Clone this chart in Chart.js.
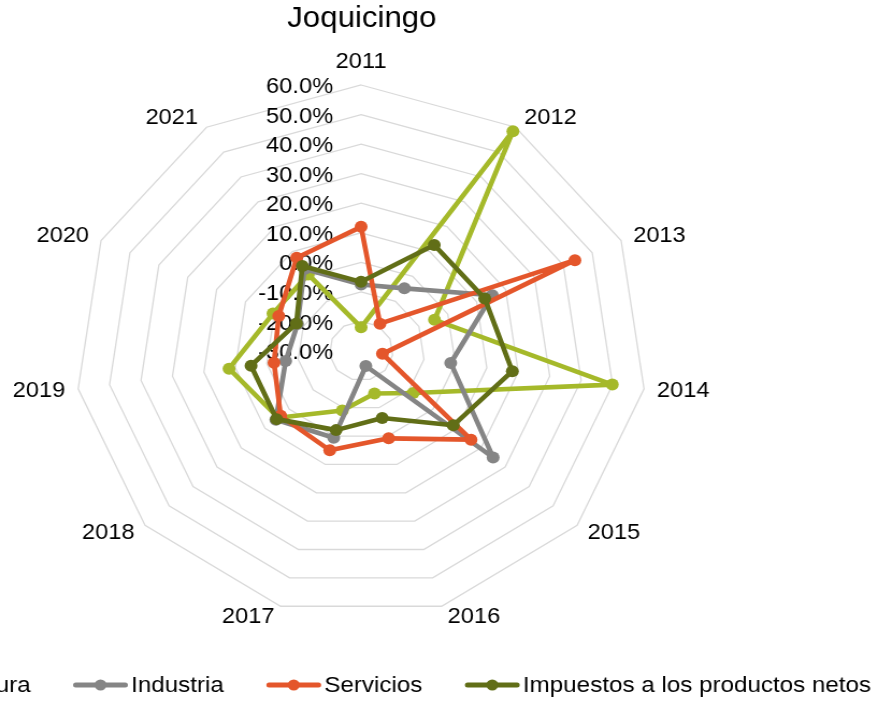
<!DOCTYPE html>
<html><head><meta charset="utf-8">
<script src="https://cdn.jsdelivr.net/npm/chart.js@4"></script>
<style>
html,body{margin:0;padding:0;background:#fff;overflow:hidden;}
#wrap{width:817px;height:701px;transform-origin:0 0;transform:scaleX(1.07466);}
canvas{display:block;}
</style></head><body>
<div id="wrap"><canvas id="c" width="817" height="701"></canvas></div>
<script>
const categories = ['2011','2012','2013','2014','2015','2016','2017','2018','2019','2020','2021'];
const seriesNames = ['Agricultura','Industria','Servicios','Impuestos a los productos netos'];
const agricultura = [-22, 58.4, -4.6, 49.9, -8.3, -15, -9, 4.5, 12, 0.5, 0.8];
const industria   = [-7.5, -4.8, 15.4, -1.5, 25, -24.7, 0.6, 5.5, -6, -8, 3];
const servicios   = [12, -19, 44, -23.2, 15.8, 0.8, 5, 3.5, -2.3, -1.5, 7.5];
const impuestos   = [-6.6, 12.6, 12.8, 18.1, 8.4, -6.4, -2.1, 5.2, 5, -7.6, 4.2];
const tickValues  = [60, 50, 40, 30, 20, 10, 0, -10, -20, -30];
const tickLabels  = ['60.0%','50.0%','40.0%','30.0%','20.0%','10.0%','0.0%','-10.0%','-20.0%','-30.0%'];
const colors = ['#A5B92A', '#858585', '#E4562B', '#616E17'];

const FONT = '"Liberation Sans", Arial, sans-serif';

const overlay = {
  id: 'overlay',
  beforeDatasetsDraw(chart) {
    const s = chart.scales.r, ctx = chart.ctx;
    ctx.save();
    ctx.font = '22px ' + FONT;
    ctx.fillStyle = '#000';
    ctx.textBaseline = 'middle';
    ctx.textAlign = 'right';
    tickValues.forEach((v, i) => {
      const r = s.getDistanceFromCenterForValue(v);
      ctx.fillText(tickLabels[i], s.xCenter - 26, s.yCenter - r + 2);
    });
    const R = s.drawingArea;
    categories.forEach((lab, i) => {
      const p = s.getPointPosition(i, R);
      const a = s.getIndexAngle(i);
      const sn = Math.sin(a), cs = Math.cos(a);
      let x, y;
      if (Math.abs(sn) < 0.01) {
        ctx.textAlign = 'center'; x = p.x; y = p.y - cs * 23;
      } else {
        ctx.textAlign = sn > 0 ? 'left' : 'right';
        x = p.x + sn * 9 + Math.sign(sn) * 3;
        y = p.y - cs * 11.5;
      }
      ctx.fillText(lab, x, y);
    });
    ctx.restore();
  },
  afterDraw(chart) {
    const s = chart.scales.r, ctx = chart.ctx;
    ctx.save();
    ctx.font = '22.5px ' + FONT;
    const markW = 50, textGap = 3.5, itemGap = 40;
    const widths = seriesNames.map(n => ctx.measureText(n).width);
    let total = itemGap * (seriesNames.length - 1);
    widths.forEach(w => total += markW + textGap + w);
    let x = s.xCenter + 3 - total / 2;
    const y = 685;
    seriesNames.forEach((n, i) => {
      ctx.strokeStyle = colors[i];
      ctx.lineWidth = 5;
      ctx.lineCap = 'round';
      ctx.beginPath(); ctx.moveTo(x + 2, y); ctx.lineTo(x + markW - 2, y); ctx.stroke();
      ctx.fillStyle = colors[i];
      ctx.beginPath(); ctx.arc(x + markW / 2, y, 5.5, 0, Math.PI * 2); ctx.fill();
      ctx.fillStyle = '#000';
      ctx.textAlign = 'left'; ctx.textBaseline = 'middle';
      ctx.fillText(n, x + markW + textGap, y + 1);
      x += markW + textGap + widths[i] + itemGap;
    });
    ctx.restore();
  }
};

const seriesData = [agricultura, industria, servicios, impuestos];
const datasets = seriesData.map((d, i) => ({
  label: seriesNames[i],
  data: d,
  borderColor: colors[i],
  backgroundColor: colors[i],
  pointBackgroundColor: colors[i],
  pointBorderColor: colors[i],
  pointBorderWidth: 0,
  pointRadius: 6,
  borderWidth: 4.6,
  borderJoinStyle: 'round',
  borderCapStyle: 'round',
  fill: false,
  tension: 0,
  order: 3 - i
}));

new Chart(document.getElementById('c'), {
  type: 'radar',
  data: { labels: categories, datasets },
  options: {
    responsive: false,
    animation: false,
    devicePixelRatio: 1,
    layout: { padding: { left: 70.7, right: 214.3, top: 0, bottom: 84 } },
    plugins: {
      legend: { display: false },
      tooltip: { enabled: false },
      title: {
        display: true, text: 'Joquicingo', color: '#000',
        font: { size: 29, family: FONT, weight: 'normal' },
        padding: { top: 2, bottom: 48.2 }
      }
    },
    scales: {
      r: {
        min: -30, max: 60,
        startAngle: 0,
        ticks: { stepSize: 10, display: false },
        grid: { color: '#D9D9D9', lineWidth: 1.3 },
        angleLines: { display: false },
        pointLabels: { display: false }
      }
    }
  },
  plugins: [overlay]
});
</script>
</body></html>
